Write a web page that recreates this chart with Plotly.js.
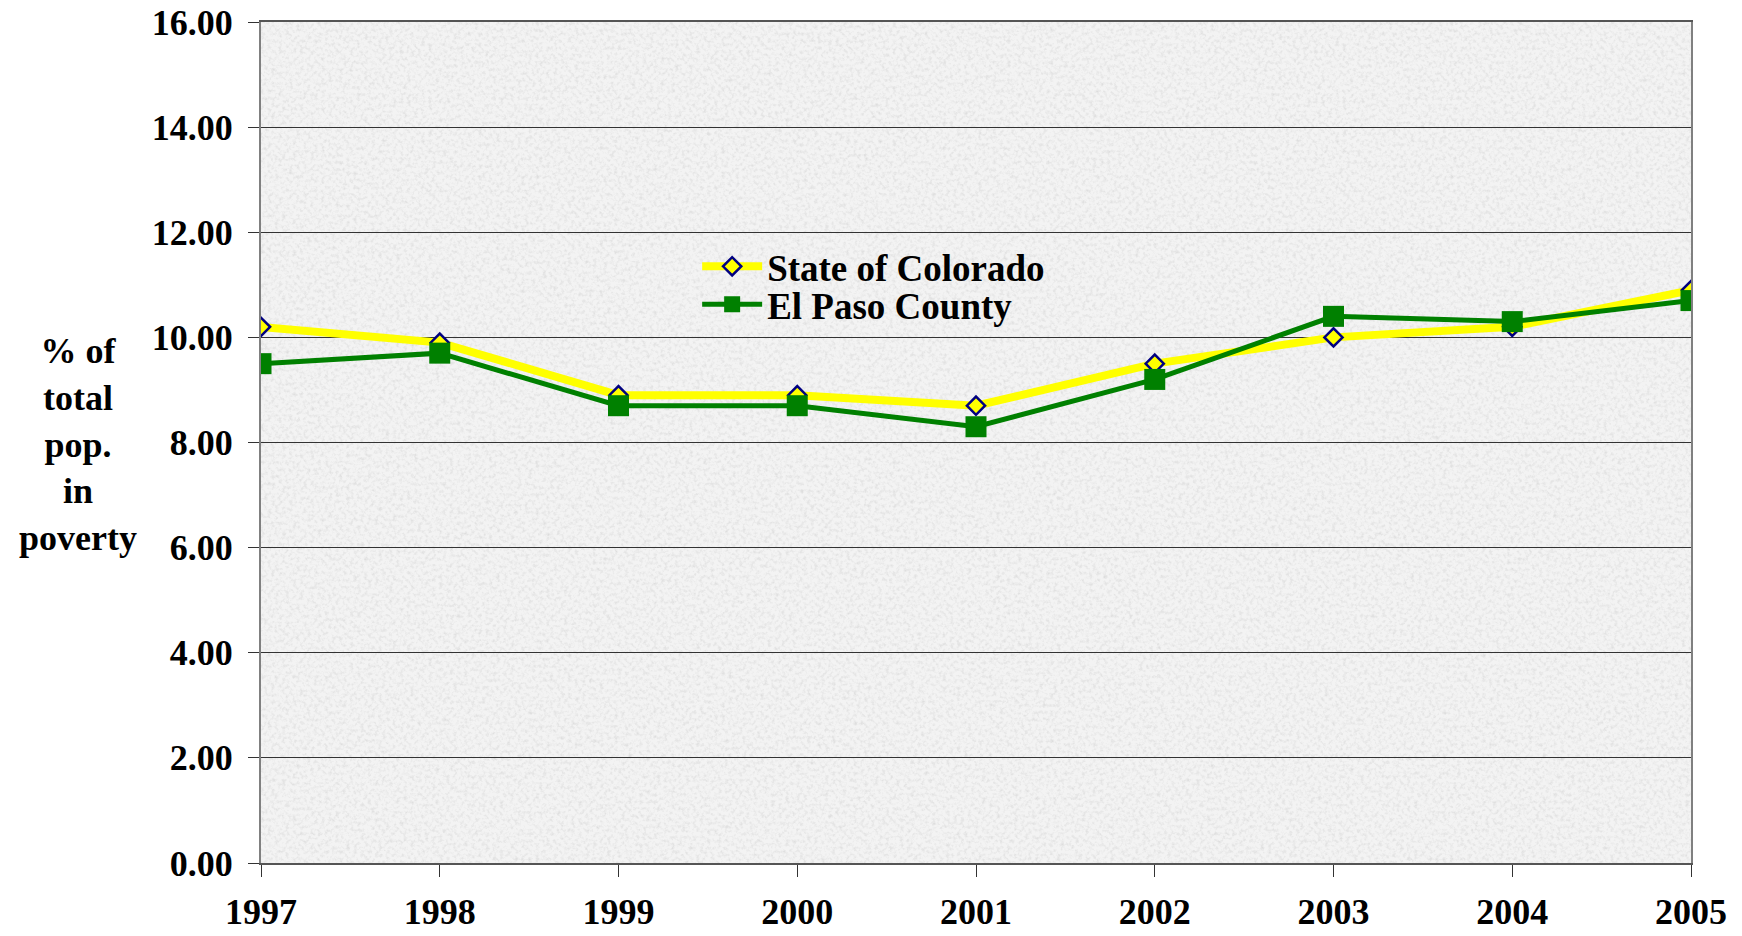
<!DOCTYPE html>
<html>
<head>
<meta charset="utf-8">
<script src="https://cdn.plot.ly/plotly-3.0.1.min.js"></script>
<style>html,body{margin:0;padding:0;background:#fff;}#chart{width:1742px;height:936px;}</style>
</head>
<body>
<div id="chart"></div>
<script>
const years = [1997, 1998, 1999, 2000, 2001, 2002, 2003, 2004, 2005];
const stateOfColorado = [10.2, 9.9, 8.9, 8.9, 8.7, 9.5, 10.0, 10.2, 10.9];
const elPasoCounty = [9.5, 9.7, 8.7, 8.7, 8.3, 9.2, 10.4, 10.3, 10.7];
const seriesNames = ["State of Colorado", "El Paso County"];
const yTitleLines = ["% of", "total", "pop.", "in", "poverty"];

const FONT = "Liberation Serif, Times New Roman, serif";

// decorative granite-like texture for the plot background (pure styling)
const textureSvg =
  "<svg xmlns='http://www.w3.org/2000/svg' width='1430' height='841'>" +
  "<filter id='n' x='0' y='0' width='100%' height='100%'>" +
  "<feTurbulence type='fractalNoise' baseFrequency='0.28' numOctaves='3' seed='7'/>" +
  "<feColorMatrix type='matrix' values='0 0 0 0 0.55  0 0 0 0 0.55  0 0 0 0 0.55  1.9 0 0 0 -0.85'/>" +
  "</filter>" +
  "<rect width='100%' height='100%' fill='#f3f3f3'/>" +
  "<rect width='100%' height='100%' filter='url(#n)' opacity='0.5'/>" +
  "</svg>";
const textureUrl = "data:image/svg+xml;charset=utf-8," + encodeURIComponent(textureSvg);

const traces = [
  {
    x: years, y: stateOfColorado, name: seriesNames[0], type: "scatter", mode: "lines+markers",
    line: {color: "#ffff00", width: 8},
    marker: {symbol: "diamond", size: 14, color: "#ffff00", line: {color: "#000080", width: 2.5}},
    legend: "legend", hoverinfo: "x+y"
  },
  {
    x: years, y: elPasoCounty, name: seriesNames[1], type: "scatter", mode: "lines+markers",
    line: {color: "#008000", width: 5},
    marker: {symbol: "square", size: 21, color: "#008000"},
    legend: "legend2", hoverinfo: "x+y"
  }
];

const legendCommon = {
  xanchor: "left", yanchor: "middle", bgcolor: "rgba(0,0,0,0)", borderwidth: 0,
  font: {family: FONT, size: 37, color: "#000", weight: "bold"}, itemwidth: 60
};

const layout = {
  width: 1742, height: 936,
  margin: {l: 261, r: 51, t: 22, b: 73, pad: 0},
  paper_bgcolor: "#ffffff",
  plot_bgcolor: "#eeeeee",
  font: {family: FONT, size: 36, color: "#000", weight: "bold"},
  showlegend: true,
  legend: Object.assign({x: 0.305, y: 0.709}, legendCommon),
  legend2: Object.assign({x: 0.305, y: 0.664}, legendCommon),
  images: [{
    source: textureUrl, xref: "paper", yref: "paper", x: 0, y: 1,
    sizex: 1, sizey: 1, xanchor: "left", yanchor: "top", sizing: "stretch", layer: "below"
  }],
  xaxis: {
    range: [1997, 2005], tickmode: "linear", tick0: 1997, dtick: 1, tickformat: "d",
    showgrid: false, zeroline: false,
    showline: true, linecolor: "#555555", linewidth: 2, mirror: true,
    ticks: "outside", ticklen: 12, tickwidth: 1, tickcolor: "#333",
    tickfont: {family: FONT, size: 36, color: "#000", weight: "bold"},
    ticklabelstandoff: 4
  },
  yaxis: {
    range: [0, 16], tickmode: "linear", tick0: 0, dtick: 2, tickformat: ".2f",
    showgrid: true, gridcolor: "#333333", gridwidth: 1, zeroline: false,
    showline: true, linecolor: "#808080", linewidth: 2, mirror: true,
    ticks: "outside", ticklen: 11, tickwidth: 1, tickcolor: "#333",
    tickfont: {family: FONT, size: 36, color: "#000", weight: "bold"},
    ticklabelstandoff: 8
  },
  annotations: [{
    text: yTitleLines.join("<br>"), xref: "paper", yref: "paper",
    x: -0.1283, y: 0.498, xanchor: "center", yanchor: "middle", align: "center",
    showarrow: false, font: {family: FONT, size: 36, color: "#000", weight: "bold"}
  }]
};

Plotly.newPlot("chart", traces, layout, {displayModeBar: false, staticPlot: true});
</script>
</body>
</html>
